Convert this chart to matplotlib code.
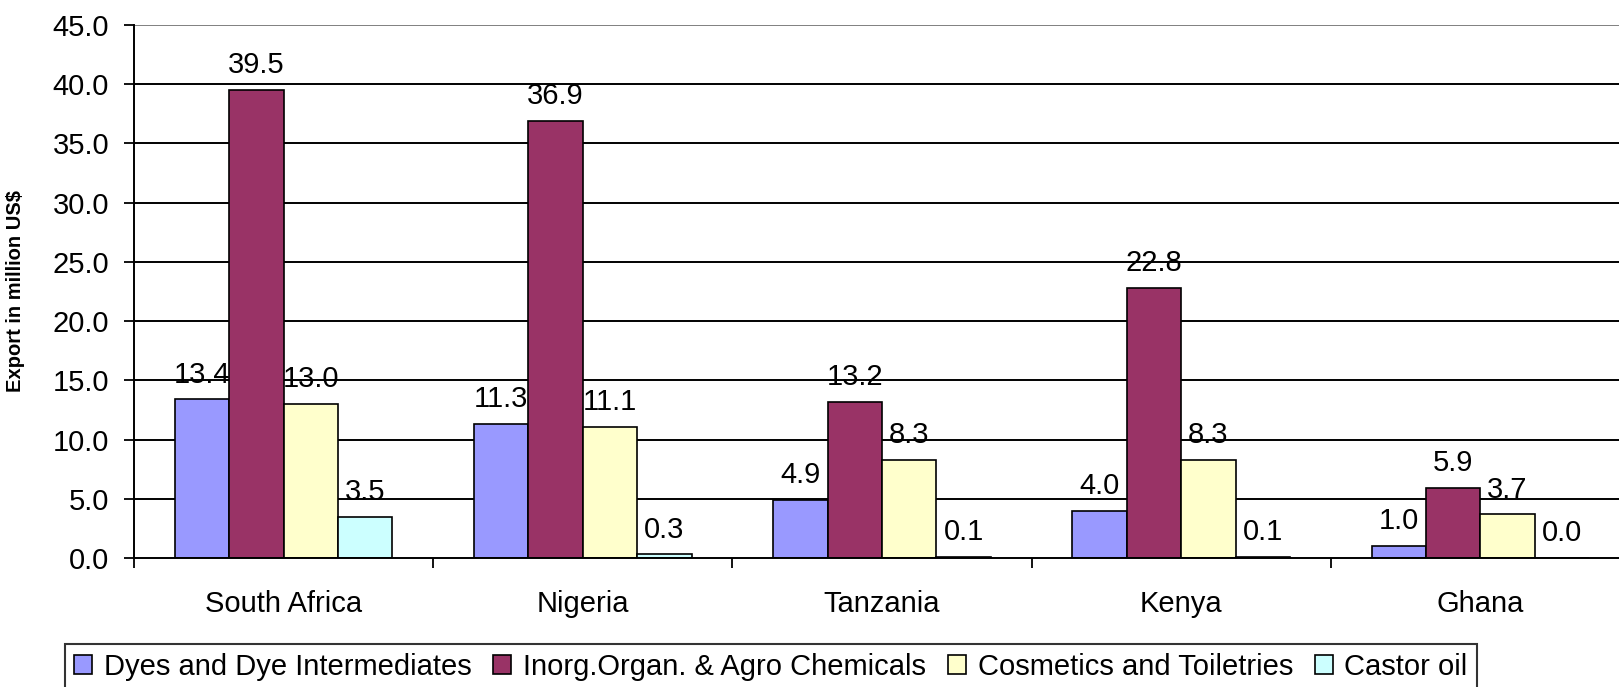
import matplotlib.pyplot as plt
import numpy as np

plt.rcParams['font.family'] = ['Liberation Sans', 'DejaVu Sans']

countries = ['South Africa', 'Nigeria', 'Tanzania', 'Kenya', 'Ghana']
series_names = ['Dyes and Dye Intermediates', 'Inorg.Organ. & Agro Chemicals',
                'Cosmetics and Toiletries', 'Castor oil']
dyes = [13.4, 11.3, 4.9, 4.0, 1.0]
agro = [39.5, 36.9, 13.2, 22.8, 5.9]
cosmetics = [13.0, 11.1, 8.3, 8.3, 3.7]
castor = [3.5, 0.3, 0.1, 0.1, 0.0]
colors = ['#9999FF', '#993366', '#FFFFCC', '#CCFFFF']

fig = plt.figure(figsize=(16.19, 6.87), dpi=100)
ax = fig.add_axes([134 / 1619, 129 / 687, 1496 / 1619, 533 / 687])

x = np.arange(len(countries))
w = 1 / 5.5
all_series = [dyes, agro, cosmetics, castor]
for i, (vals, name, c) in enumerate(zip(all_series, series_names, colors)):
    pos = x + (i - 1.5) * w
    ax.bar(pos, vals, width=w, color=c, edgecolor='black', linewidth=1.2,
           label=name, zorder=3)
    for px, v in zip(pos, vals):
        ax.annotate(f'{v:.1f}', (px, v), xytext=(0, 12), textcoords='offset points',
                    ha='center', va='baseline', fontsize=21, zorder=4)

ax.set_xlim(-0.5, 4.5)
ax.set_ylim(0, 45)
ax.set_yticks(np.arange(0, 46, 5))
ax.set_yticklabels([f'{t:.1f}' for t in np.arange(0, 46, 5)])
for t in np.arange(5, 46, 5):
    ax.axhline(t, color='#808080' if t == 45 else 'black', linewidth=1.4, zorder=1)

ax.set_xticks(np.arange(-0.5, 5, 1))
ax.set_xticklabels([])
ax.set_xticks(x, minor=True)
ax.set_xticklabels(countries, minor=True)
ax.tick_params(axis='x', which='major', direction='out', length=7, width=1.3)
ax.tick_params(axis='x', which='minor', length=0, pad=23, labelsize=21)
ax.tick_params(axis='y', direction='out', length=7, width=1.3, pad=11, labelsize=21)

for s in ['top', 'right']:
    ax.spines[s].set_visible(False)
for s in ['left', 'bottom']:
    ax.spines[s].set_linewidth(1.4)
    ax.spines[s].set_zorder(5)

ax.set_ylabel('Export in million US$', fontsize=14.5, fontweight='bold')
ax.yaxis.set_label_coords(-0.073, 0.5)

leg = fig.legend(loc='upper left', bbox_to_anchor=(65 / 1619, 1 - 644 / 687), ncol=4,
                 fontsize=21, frameon=True, fancybox=False, edgecolor='black',
                 handlelength=0.62, handleheight=0.62, handletextpad=0.4,
                 columnspacing=0.75, borderpad=0.3, borderaxespad=0)
leg.get_frame().set_linewidth(1.5)

fig.savefig('out.png', dpi=100)
